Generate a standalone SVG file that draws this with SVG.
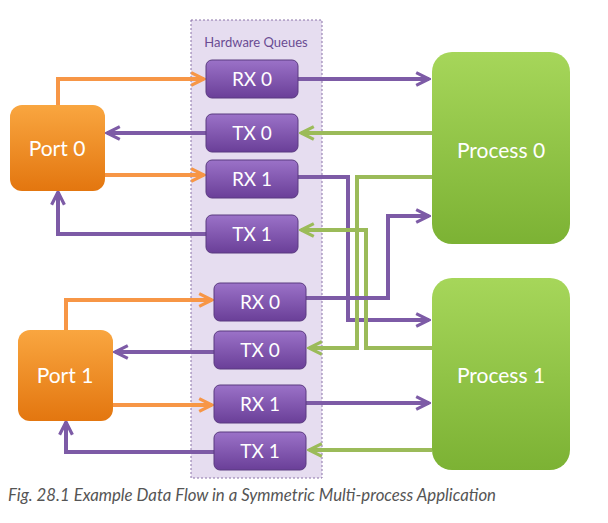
<svg xmlns="http://www.w3.org/2000/svg" width="608" height="523" viewBox="0 0 608 523">
<defs>
<linearGradient id="gq" x1="0" y1="0" x2="0" y2="1"><stop offset="0" stop-color="#9b72c8"/><stop offset="1" stop-color="#6a3f98"/></linearGradient>
<linearGradient id="gp" x1="0" y1="0" x2="0" y2="1"><stop offset="0" stop-color="#f9a640"/><stop offset="1" stop-color="#e3760f"/></linearGradient>
<linearGradient id="gg" x1="0" y1="0" x2="0" y2="1"><stop offset="0" stop-color="#a6d65a"/><stop offset="1" stop-color="#7cb234"/></linearGradient>
<marker id="ap" viewBox="0 0 10 10" refX="9" refY="5" markerWidth="4" markerHeight="4" orient="auto"><path d="M1,1 L9,5 L1,9" fill="none" stroke="#7d5ba6" stroke-width="2"/></marker>
<marker id="ao" viewBox="0 0 10 10" refX="9" refY="5" markerWidth="4" markerHeight="4" orient="auto"><path d="M1,1 L9,5 L1,9" fill="none" stroke="#f79646" stroke-width="2"/></marker>
<marker id="ag" viewBox="0 0 10 10" refX="9" refY="5" markerWidth="4" markerHeight="4" orient="auto"><path d="M1,1 L9,5 L1,9" fill="none" stroke="#9bbb59" stroke-width="2"/></marker>
</defs>
<style>
text{font-family:"Lato","Liberation Sans",sans-serif;text-anchor:middle}
.q rect{fill:url(#gq);stroke:#5a3a80;stroke-width:1}
.q text{fill:#fff;font-size:19px}
.p rect{fill:url(#gp)}
.g rect{fill:url(#gg)}
.big{fill:#fff;font-size:21px}
.cp{fill:none;stroke:#7d5ba6;stroke-width:4;marker-end:url(#ap)}
.co{fill:none;stroke:#f79646;stroke-width:4;marker-end:url(#ao)}
.cg{fill:none;stroke:#9bbb59;stroke-width:4;marker-end:url(#ag)}
</style>
<rect width="608" height="523" fill="#fff"/>
<g id="panel"><rect x="191" y="20" width="131" height="458" fill="#e6ddf0" stroke="#8a73a8" stroke-dasharray="2,2"/>
<text x="256" y="47" font-size="13" fill="#6a4c93">Hardware Queues</text></g>
<g id="connectors">
<path class="co" d="M58,105 V79 H204"/>
<path class="cp" d="M206,133 H107"/>
<path class="co" d="M105,175 H204"/>
<path class="cp" d="M206,234 H58 V192"/>
<path class="cp" d="M298,79 H429"/>
<path class="cg" d="M432,133 H301"/>
<path class="co" d="M66,330 V300 H212"/>
<path class="cp" d="M214,352 H115"/>
<path class="co" d="M113,405 H212"/>
<path class="cp" d="M214,452 H66 V422"/>
<path class="cp" d="M306,403 H429"/>
<path class="cg" d="M432,450 H309"/>
<path class="cp" d="M298,177 H348 V320 H429"/>
<path class="cg" d="M432,177 H357 V348 H309"/>
<path class="cg" d="M432,348 H366 V230 H301"/>
<path class="cp" d="M306,298 H388 V216 H429"/>
</g>
<g id="rx0a" class="q"><rect x="206" y="60" width="92" height="38" rx="6"/><text x="252" y="86">RX 0</text></g>
<g id="tx0a" class="q"><rect x="206" y="114" width="92" height="38" rx="6"/><text x="252" y="140">TX 0</text></g>
<g id="rx1a" class="q"><rect x="206" y="160" width="92" height="38" rx="6"/><text x="252" y="186">RX 1</text></g>
<g id="tx1a" class="q"><rect x="206" y="215" width="92" height="38" rx="6"/><text x="252" y="241">TX 1</text></g>
<g id="rx0b" class="q"><rect x="214" y="283" width="92" height="38" rx="6"/><text x="260" y="309">RX 0</text></g>
<g id="tx0b" class="q"><rect x="214" y="331" width="92" height="38" rx="6"/><text x="260" y="357">TX 0</text></g>
<g id="rx1b" class="q"><rect x="214" y="385" width="92" height="38" rx="6"/><text x="260" y="411">RX 1</text></g>
<g id="tx1b" class="q"><rect x="214" y="432" width="92" height="38" rx="6"/><text x="260" y="458">TX 1</text></g>
<g id="port0" class="p"><rect x="10" y="105" width="95" height="86" rx="12"/><text class="big" x="57" y="156">Port 0</text></g>
<g id="port1" class="p"><rect x="18" y="330" width="95" height="91" rx="12"/><text class="big" x="65" y="383">Port 1</text></g>
<g id="proc0" class="g"><rect x="432" y="52" width="138" height="192" rx="20"/><text class="big" x="501" y="158">Process 0</text></g>
<g id="proc1" class="g"><rect x="432" y="278" width="138" height="192" rx="20"/><text class="big" x="501" y="383">Process 1</text></g>
<text x="8" y="501" style="text-anchor:start;font-style:italic" font-size="16.8" fill="#555">Fig. 28.1 Example Data Flow in a Symmetric Multi-process Application</text>
</svg>
